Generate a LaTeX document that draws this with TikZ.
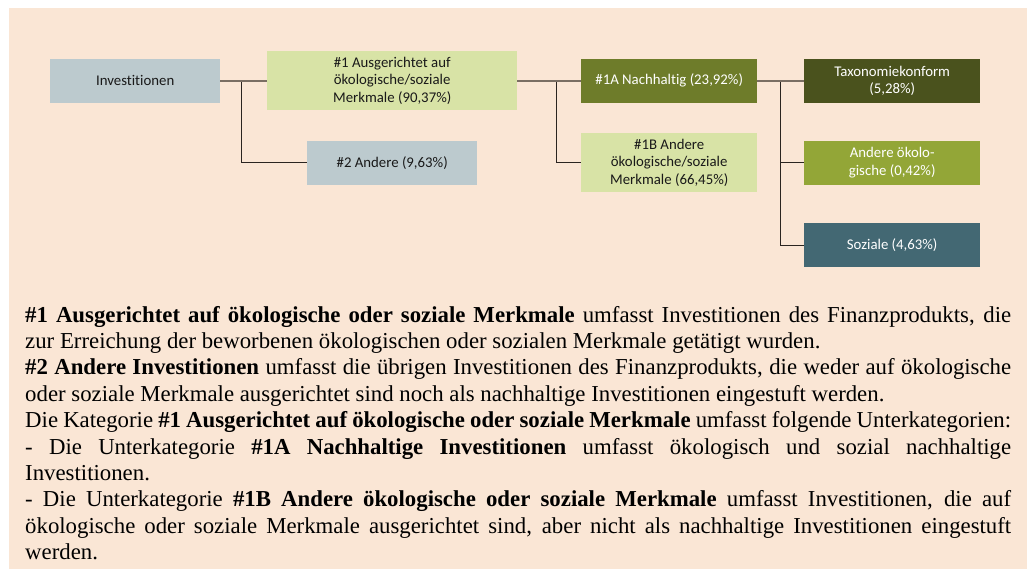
\documentclass[tikz,border=0pt]{standalone}
\usepackage{fontspec}
\setmainfont{Liberation Serif}
\newfontfamily\boxfont[Ligatures=NoCommon]{Carlito}
\usetikzlibrary{matrix,positioning}

\definecolor{paper}{HTML}{FAE6D5}
\definecolor{greyblue}{HTML}{BCCACE}
\definecolor{palegreen}{HTML}{D8E3A6}
\definecolor{olivegreen}{HTML}{6E7C2A}
\definecolor{darkolive}{HTML}{4A521D}
\definecolor{grassgreen}{HTML}{93A637}
\definecolor{slateteal}{HTML}{436873}
\definecolor{mainline}{HTML}{7A6E63}
\definecolor{branchline}{HTML}{2A2420}

\begin{document}
\begin{tikzpicture}[x=1pt, y=-1pt]
  \tikzstyle{box}=[rectangle, anchor=center, inner sep=0pt, minimum width=176pt, minimum height=44pt, align=center, font=\boxfont\fontsize{14.8}{17.5}\selectfont]
  \tikzstyle{greybox}=[box, fill=greyblue, text=black!90, minimum width=170pt]
  \tikzstyle{palebox}=[box, fill=palegreen, text=black!90]
  \tikzstyle{olivebox}=[box, fill=olivegreen, text=white]
  \tikzstyle{darkbox}=[box, fill=darkolive, text=white]
  \tikzstyle{grassbox}=[box, fill=grassgreen, text=white]
  \tikzstyle{tealbox}=[box, fill=slateteal, text=white]
  \tikzstyle{line} = [draw=mainline, line width=2pt]
  \tikzstyle{branch} = [draw=branchline, line width=1.1pt]

  \useasboundingbox (0,0) rectangle (1032,569);
  \fill [paper] (9,8) rectangle (1027,569);

  \matrix (chart) [matrix anchor=north west, inner sep=0pt, column sep=47pt] at (50,51) {
    % first row
    \node [greybox] (invest) {Investitionen}; &
    \node [palebox, minimum width=250pt, minimum height=59pt] (aligned) {
      \#1 Ausgerichtet auf\\
      ökologische/soziale\\
      Merkmale (90,37\%)
    }; &[17pt]
    \node [olivebox] (sustainable) {\#1A Nachhaltig (23,92\%)}; &
    \node [darkbox] (taxonomy) {
      Taxonomiekonform\\
      (5,28\%)
    }; \\[23pt]

    % second row
    &
    \node [greybox] (other) {\#2 Andere (9,63\%)}; &[17pt]
    \node [palebox, minimum height=59pt] (otherchar) {
      \#1B Andere\\
      ökologische/soziale\\
      Merkmale (66,45\%)
    }; &
    \node [grassbox] (otherenv) {
      Andere ökolo-\\
      gische (0,42\%)
    }; \\[31pt]

    % third row
    & & &
    \node [tealbox] (social) {Soziale (4,63\%)}; \\
  };

  \path (invest.east) -- (aligned.west) coordinate [pos=0.46] (split1);
  \path (aligned.east) -- (sustainable.west) coordinate [pos=0.61] (split2);
  \path (sustainable.east) -- (taxonomy.west) coordinate [pos=0.49] (split3);

  \draw [branch] (split1) |- (other.west);
  \draw [branch] (split2) |- (otherchar.west);
  \draw [branch] (split3) |- (otherenv.west);
  \draw [branch] (split3) |- (social.west);
  \draw [line] (invest.east) -- (aligned.west);
  \draw [line] (aligned.east) -- (sustainable.west);
  \draw [line] (sustainable.east) -- (taxonomy.west);

  \node [anchor=base west, inner sep=0pt, text width=986pt, align=justify,
         font=\fontsize{22.8}{26.4}\selectfont]
        (notes) at (25,322) {\hyphenpenalty=10000 \tolerance=9999
    \textbf{\#1 Ausgerichtet auf ökologische oder soziale Merkmale} umfasst Investitionen des Finanzprodukts, die\linebreak
    zur Erreichung der beworbenen ökologischen oder sozialen Merkmale getätigt wurden.\par
    \textbf{\#2 Andere Investitionen} umfasst die übrigen Investitionen des Finanzprodukts, die weder auf ökologische\linebreak
    oder soziale Merkmale ausgerichtet sind noch als nachhaltige Investitionen eingestuft werden.\par
    Die Kategorie \textbf{\#1 Ausgerichtet auf ökologische oder soziale Merkmale} umfasst folgende Unterkategorien:\par
    - Die Unterkategorie \textbf{\#1A Nachhaltige Investitionen} umfasst ökologisch und sozial nachhaltige\linebreak
    Investitionen.\par
    - Die Unterkategorie \textbf{\#1B Andere ökologische oder soziale Merkmale} umfasst Investitionen, die auf\linebreak
    ökologische oder soziale Merkmale ausgerichtet sind, aber nicht als nachhaltige Investitionen eingestuft\linebreak
    werden.};
\end{tikzpicture}
\end{document}
